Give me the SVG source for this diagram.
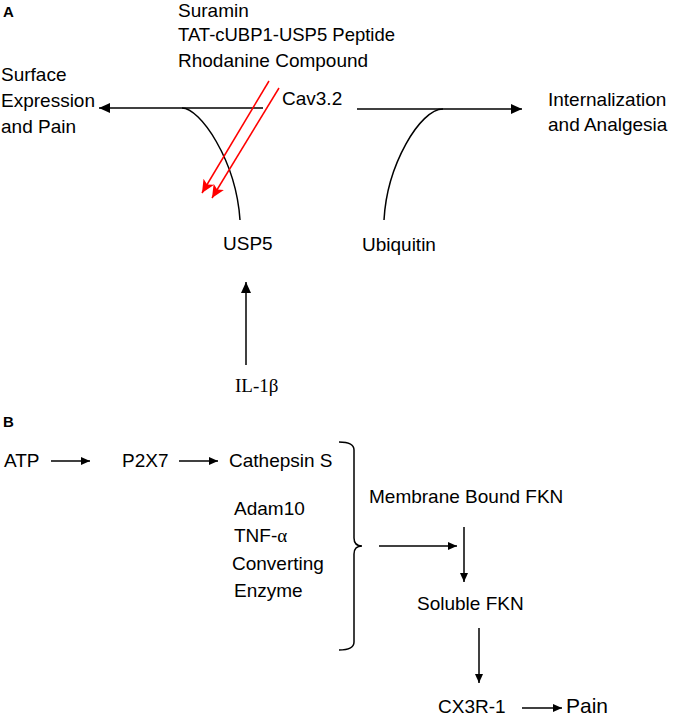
<svg xmlns="http://www.w3.org/2000/svg" width="675" height="718" viewBox="0 0 675 718">
<style>
text{font-family:"Liberation Sans",Arial,sans-serif;font-size:19px;fill:#000}
.lbl{font-weight:bold;font-size:15px}
.serif{font-family:"Liberation Serif","Times New Roman",serif}
.ln{fill:none;stroke:#000;stroke-width:1.5}
.red{fill:none;stroke:#ff0000;stroke-width:1.5}
</style>
<defs>
<marker id="ah" markerUnits="userSpaceOnUse" markerWidth="12" markerHeight="10" refX="11" refY="5" orient="auto">
<path d="M0,0 L11,5 L0,10 Z" fill="#000"/>
</marker>
<marker id="ahs" markerUnits="userSpaceOnUse" markerWidth="10" markerHeight="8" refX="9" refY="4" orient="auto">
<path d="M0,0 L9,4 L0,8 Z" fill="#000"/>
</marker>
<marker id="ahr" markerUnits="userSpaceOnUse" markerWidth="14" markerHeight="12" refX="13" refY="6" orient="auto">
<path d="M0,0 L13,6 L0,12 L3,6 Z" fill="#ff0000"/>
</marker>
</defs>

<text class="lbl" x="3" y="17">A</text>
<text class="lbl" x="3" y="427">B</text>

<g id="inhibitors">
<text x="178" y="17">Suramin</text>
<text x="178" y="41" textLength="217" lengthAdjust="spacingAndGlyphs">TAT-cUBP1-USP5 Peptide</text>
<text x="178" y="67">Rhodanine Compound</text>
</g>
<g id="surface"><text x="1" y="81">Surface</text><text x="1" y="107">Expression</text><text x="1" y="133">and Pain</text></g>
<g id="cav32"><text x="282" y="105">Cav3.2</text></g>
<g id="internalization"><text x="548" y="106">Internalization</text><text x="548" y="131">and Analgesia</text></g>
<g id="usp5"><text x="223" y="250">USP5</text></g>
<g id="ubiquitin"><text x="362" y="251">Ubiquitin</text></g>
<g id="il1b"><text class="serif" x="235" y="392">IL-1β</text></g>

<g id="atp"><text x="4" y="467">ATP</text></g>
<g id="p2x7"><text x="122" y="467">P2X7</text></g>
<g id="cathepsin"><text x="229" y="467">Cathepsin S</text></g>
<g id="adam10">
<text x="234" y="515">Adam10</text>
<text x="234" y="542">TNF-<tspan class="serif">α</tspan></text>
<text x="232" y="570">Converting</text>
<text x="234" y="597">Enzyme</text>
</g>
<g id="membrane"><text x="369" y="503">Membrane Bound FKN</text></g>
<g id="soluble"><text x="417" y="610">Soluble FKN</text></g>
<g id="cx3r1"><text x="438" y="713">CX3R-1</text></g>
<g id="pain"><text x="566" y="713" style="font-size:21px">Pain</text></g>

<g id="connectors">
<line class="ln" x1="263" y1="108" x2="99" y2="108" marker-end="url(#ah)"/>
<path class="ln" d="M182,108 C200,108 236,160 240,220"/>
<line class="ln" x1="357" y1="109" x2="522" y2="109" marker-end="url(#ah)"/>
<path class="ln" d="M443,109 C420,109 387,165 384,220"/>
<line class="red" x1="269" y1="81" x2="202" y2="193" marker-end="url(#ahr)"/>
<line class="red" x1="279" y1="88" x2="212" y2="198" marker-end="url(#ahr)"/>
<line class="ln" x1="246" y1="365" x2="246" y2="282" marker-end="url(#ah)"/>
<line class="ln" x1="51" y1="461" x2="90" y2="461" marker-end="url(#ahs)"/>
<line class="ln" x1="179" y1="461" x2="218" y2="461" marker-end="url(#ahs)"/>
<path class="ln" d="M339,442 Q354,442 354,450 L354,538 Q354,546 362,546 Q354,546 354,554 L354,642 Q354,650 339,650"/>
<line class="ln" x1="379" y1="546" x2="457" y2="546" marker-end="url(#ahs)"/>
<line class="ln" x1="464" y1="527" x2="464" y2="582" marker-end="url(#ahs)"/>
<line class="ln" x1="479" y1="628" x2="479" y2="683" marker-end="url(#ahs)"/>
<line class="ln" x1="522" y1="708" x2="562" y2="708" marker-end="url(#ahs)"/>
</g>
</svg>
